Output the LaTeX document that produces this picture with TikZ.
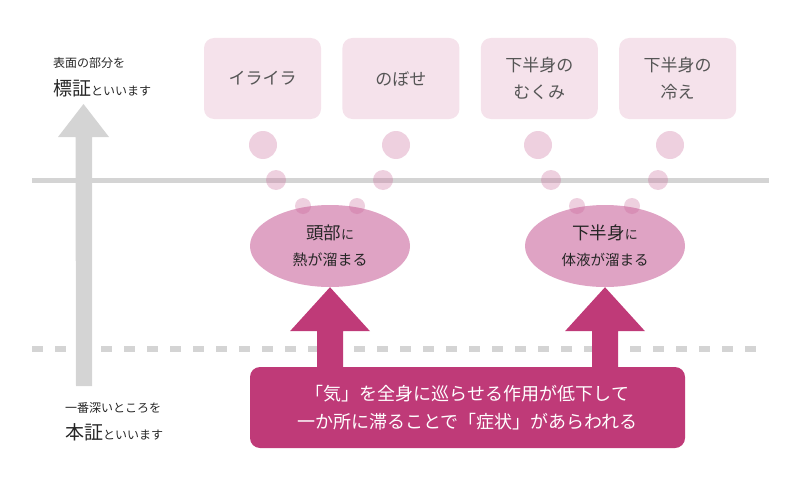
\documentclass[tikz,border=0pt]{standalone}
\usepackage{fontspec}
\setmainfont{Noto Sans CJK JP}
\usepackage{xcolor}
\definecolor{accent}    {HTML}{BF3A78}
\definecolor{symBack}   {HTML}{F5E2EB}
\definecolor{symText}   {HTML}{555555}
\definecolor{seatBack}  {HTML}{DFA3C4}
\definecolor{bubbleFill}{HTML}{C86496}
\definecolor{ruleGray}  {HTML}{D4D4D4}
\usetikzlibrary{positioning, calc, shapes.geometric}
\tikzset{
    symptom/.style={rectangle, rounded corners=10pt, fill=symBack,
                    minimum width=117pt, minimum height=81pt, align=center,
                    text=symText, font=\fontsize{17}{27}\selectfont},
    bubble/.style={circle, fill=bubbleFill, fill opacity=0.3, inner sep=0pt},
    bigbubble/.style={bubble, minimum size=28pt},
    midbubble/.style={bubble, minimum size=20pt},
    smallbubble/.style={bubble, minimum size=16pt},
    seat/.style={ellipse, fill=seatBack, minimum width=160pt, minimum height=82pt,
                 inner sep=0pt, align=center, text=black!85,
                 font=\fontsize{15}{26}\selectfont},
    cause/.style={rectangle, rounded corners=10pt, fill=accent,
                  minimum width=435pt, minimum height=81pt, align=center,
                  text=white, font=\fontsize{18}{28}\selectfont},
    surfaceline/.style={line width=5pt, ruleGray},
    depthline/.style={line width=6pt, ruleGray, dash pattern=on 11pt off 12pt},
    note/.style={anchor=west, inner sep=0pt, text=black!85},
}

\begin{document}
\begin{tikzpicture}[x=1pt, y=-1pt, node distance=21pt]
    \useasboundingbox (0,0) rectangle (800,487);

    % levels
    \draw[surfaceline] (32,180) -- (769,180);
    \draw[depthline] (32,349) -- (757,349);

    % depth arrow on the left
    \coordinate (deeptop) at (83.5,104);
    \coordinate (deepfoot) at (84,386);
    \fill[ruleGray] (deeptop) -- ++(25.5,33) -- ++(-17,0) -- ($(deepfoot)+(8,0)$)
        -- ++(-16,0) -- ($(deeptop)+(-8,33)$) -- ++(-17.5,0) -- cycle;

    \node[note, font=\fontsize{12}{12}\selectfont] (surfacehead) at (53,63) {表面の部分を};
    \node[note] (surfacename) at (53,88)
        {{\fontsize{19}{19}\selectfont 標証}{\fontsize{12}{12}\selectfont といいます}};
    \node[note, font=\fontsize{12}{12}\selectfont] (depthhead) at (65,408) {一番深いところを};
    \node[note] (depthname) at (65,432)
        {{\fontsize{19}{19}\selectfont 本証}{\fontsize{12}{12}\selectfont といいます}};

    % symptoms
    \node[symptom] (irritable) at (262.5,78.5) {イライラ};
    \node[symptom, right=of irritable] (flush) {のぼせ};
    \node[symptom, right=of flush] (swelling) {下半身の\\むくみ};
    \node[symptom, right=of swelling] (chill) {下半身の\\冷え};

    % where it stagnates
    \node[seat] (head) at (330,246)
        {{\fontsize{17.5}{26}\selectfont 頭部}{\fontsize{13}{26}\selectfont に}\\熱が溜まる};
    \node[seat] (lower) at (605,246)
        {{\fontsize{17.5}{26}\selectfont 下半身}{\fontsize{13}{26}\selectfont に}\\{\fontsize{14.5}{26}\selectfont 体液が溜まる}};

    % thought bubbles
    \foreach \bx/\mx/\sx [count=\i] in {263/276/303, 396/383/357, 538/551/577, 670/658/632} {
        \node[bigbubble] (big-\i) at (\bx,145) {};
        \node[midbubble] (mid-\i) at (\mx,180) {};
        \node[smallbubble] (small-\i) at (\sx,206) {};
    }

    % cause and arrows
    \node[cause] (cause) at (467.5,407.5)
        {「気」を全身に巡らせる作用が低下して\\一か所に滞ることで「症状」があらわれる};
    \foreach \place in {head, lower}
        \fill[accent] (\place.south) -- ++(40,44) -- ++(-27,0)
            -- ($(\place.south |- cause.north)+(13,2)$) -- ++(-26,0)
            -- ($(\place.south)+(-13,44)$) -- ++(-27,0) -- cycle;
\end{tikzpicture}
\end{document}
